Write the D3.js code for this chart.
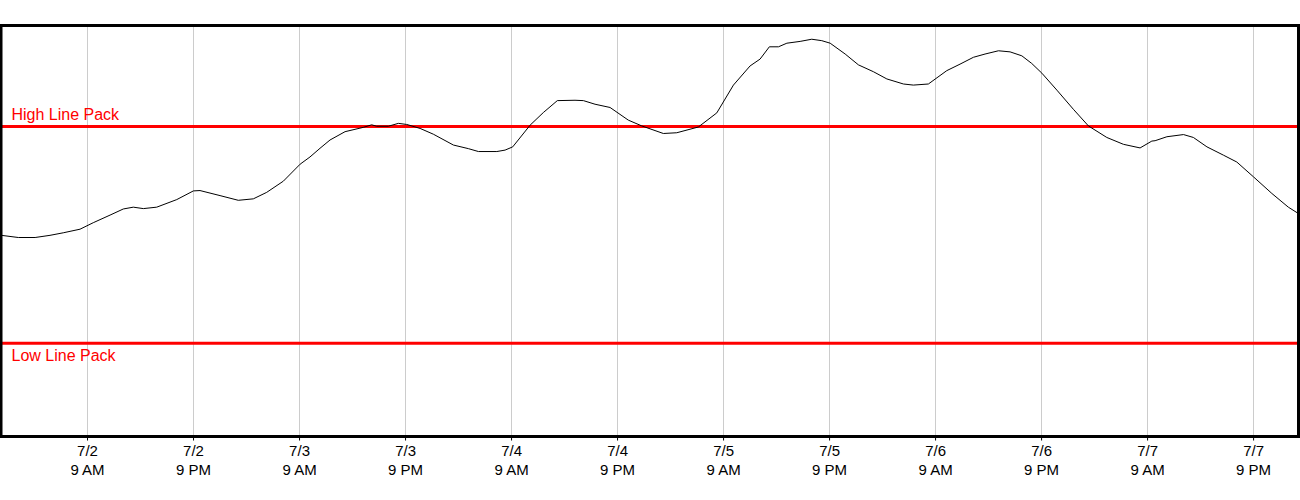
<!DOCTYPE html>
<html>
<head>
<meta charset="utf-8">
<script src="https://cdn.jsdelivr.net/npm/d3@7"></script>
<style>
  html, body { margin: 0; padding: 0; background: #fff; }
  svg { display: block; font-family: "Liberation Sans", Arial, sans-serif; }
</style>
</head>
<body>
<svg id="chart" width="1300" height="500"></svg>
<script>
// ---- data ----
const times = [
  "2023-07-01T23:15","2023-07-02T01:10","2023-07-02T03:04","2023-07-02T04:45","2023-07-02T06:15",
  "2023-07-02T08:09","2023-07-02T09:39","2023-07-02T11:33","2023-07-02T13:03","2023-07-02T14:11",
  "2023-07-02T15:19","2023-07-02T16:50","2023-07-02T19:06","2023-07-02T20:59","2023-07-02T21:44",
  "2023-07-03T00:00","2023-07-03T02:04","2023-07-03T03:46","2023-07-03T05:17","2023-07-03T07:10",
  "2023-07-03T09:04","2023-07-03T10:11","2023-07-03T11:19","2023-07-03T12:27","2023-07-03T14:09",
  "2023-07-03T16:13","2023-07-03T17:10","2023-07-03T17:44","2023-07-03T19:03","2023-07-03T20:11",
  "2023-07-03T21:08","2023-07-03T22:39","2023-07-04T00:09","2023-07-04T02:25","2023-07-04T04:07",
  "2023-07-04T05:15","2023-07-04T07:20","2023-07-04T08:16","2023-07-04T09:08","2023-07-04T11:06",
  "2023-07-04T12:36","2023-07-04T14:11","2023-07-04T16:11","2023-07-04T17:08","2023-07-04T18:27",
  "2023-07-04T20:09","2023-07-04T22:13","2023-07-04T23:44","2023-07-05T02:11","2023-07-05T03:42",
  "2023-07-05T06:09","2023-07-05T08:14","2023-07-05T10:07","2023-07-05T12:00","2023-07-05T13:08",
  "2023-07-05T14:11","2023-07-05T15:13","2023-07-05T16:10","2023-07-05T17:40","2023-07-05T18:59",
  "2023-07-05T20:07","2023-07-05T21:04","2023-07-05T22:46","2023-07-06T00:16","2023-07-06T01:58",
  "2023-07-06T03:29","2023-07-06T05:22","2023-07-06T06:29","2023-07-06T08:11","2023-07-06T10:16",
  "2023-07-06T11:46","2023-07-06T13:17","2023-07-06T14:36","2023-07-06T16:07","2023-07-06T17:26",
  "2023-07-06T18:46","2023-07-06T19:53","2023-07-06T21:02","2023-07-06T22:44","2023-07-07T00:36",
  "2023-07-07T02:18","2023-07-07T04:23","2023-07-07T06:16","2023-07-07T08:09","2023-07-07T09:29",
  "2023-07-07T09:51","2023-07-07T11:11","2023-07-07T13:04","2023-07-07T14:11","2023-07-07T15:43",
  "2023-07-07T17:35","2023-07-07T19:06","2023-07-07T20:59","2023-07-07T23:04","2023-07-08T00:56",
  "2023-07-08T01:58"
];
const linePack = [
  359.9,359.3,359.3,359.9,360.6,
  361.6,363.4,365.5,367.2,367.7,
  367.3,367.7,369.8,372.2,372.3,
  370.9,369.6,370.0,371.8,374.9,
  379.6,381.6,384.0,386.3,388.6,
  389.8,390.5,390.1,390.1,390.9,
  390.6,389.5,387.9,384.9,383.9,
  383.1,383.1,383.5,384.4,390.4,
  393.9,397.2,397.3,397.2,396.2,
  395.3,391.8,390.2,388.1,388.3,
  389.9,393.8,401.5,406.8,408.7,
  412.1,412.1,413.1,413.6,414.2,
  413.8,413.1,410.1,407.1,405.2,
  403.2,401.8,401.5,401.8,405.5,
  407.3,409.2,410.1,411.0,410.7,
  409.6,407.5,404.8,400.1,394.8,
  390.2,387.0,385.1,384.1,386.0,
  386.1,387.2,387.8,387.0,384.4,
  382.1,380.2,376.1,371.5,367.7,
  366.1
];
const limitNames = ["High Line Pack", "Low Line Pack"];
const limitValues = [390, 330];
const tickTimes = [
  "2023-07-02T09:00","2023-07-02T21:00","2023-07-03T09:00","2023-07-03T21:00",
  "2023-07-04T09:00","2023-07-04T21:00","2023-07-05T09:00","2023-07-05T21:00",
  "2023-07-06T09:00","2023-07-06T21:00","2023-07-07T09:00","2023-07-07T21:00"
];
const xDomain = ["2023-07-01T23:15", "2023-07-08T02:05"];
const yDomain = [304.2, 418];

// ---- chart ----
(function () {
const parse = d3.timeParse("%Y-%m-%dT%H:%M");
const data = times.map((t, i) => ({ t: parse(t), v: linePack[i] }));
const ticks = tickTimes.map(parse);

const pL = 1.4, pR = 1298.5, pT = 25.5, pB = 436.5;
const svg = d3.select("#chart");

const x = d3.scaleTime().domain(xDomain.map(parse)).range([pL, pR]);
const y = d3.scaleLinear().domain(yDomain).range([pB, pT]);

// gridlines
svg.append("g")
  .selectAll("line")
  .data(ticks)
  .join("line")
  .attr("x1", d => Math.floor(x(d)) + 0.5)
  .attr("x2", d => Math.floor(x(d)) + 0.5)
  .attr("y1", pT)
  .attr("y2", pB)
  .attr("stroke", "#cccccc")
  .attr("stroke-width", 1);

// limit lines
const limits = limitNames.map((n, i) => ({ name: n, v: limitValues[i], above: i === 0 }));
const lg = svg.append("g");
lg.selectAll("line")
  .data(limits)
  .join("line")
  .attr("x1", pL)
  .attr("x2", pR)
  .attr("y1", d => y(d.v))
  .attr("y2", d => y(d.v))
  .attr("stroke", "#ff0000")
  .attr("stroke-width", 3);
lg.selectAll("text")
  .data(limits)
  .join("text")
  .attr("x", 11.5)
  .attr("y", d => d.above ? y(d.v) - 6.5 : y(d.v) + 18)
  .attr("fill", "#ff0000")
  .attr("font-size", "16px")
  .text(d => d.name);

// series line
svg.append("path")
  .datum(data)
  .attr("fill", "none")
  .attr("stroke", "#000")
  .attr("stroke-width", 1)
  .attr("d", d3.line().x(d => x(d.t)).y(d => y(d.v)));

// x axis
const fmtDate = d3.timeFormat("%-m/%-d");
const fmtHour = d3.timeFormat("%-I %p");
const axis = svg.append("g")
  .attr("transform", `translate(-0.5,${pB})`)
  .call(d3.axisBottom(x).tickValues(ticks).tickSize(4).tickFormat(""));
axis.select(".domain").remove();
axis.selectAll(".tick line").attr("stroke", "#000");
axis.selectAll(".tick").each(function (d) {
  const g = d3.select(this);
  const t = g.append("text")
    .attr("fill", "#000")
    .attr("font-size", "15px")
    .attr("text-anchor", "middle");
  t.append("tspan").attr("x", 0).attr("y", 19.5).text(fmtDate(d));
  t.append("tspan").attr("x", 0).attr("y", 38.5).text(fmtHour(d));
});

// frame
svg.append("rect")
  .attr("x", 1)
  .attr("y", pT)
  .attr("width", pR - 1)
  .attr("height", pB - pT)
  .attr("fill", "none")
  .attr("stroke", "#000")
  .attr("stroke-width", 3);
})();
</script>
</body>
</html>
